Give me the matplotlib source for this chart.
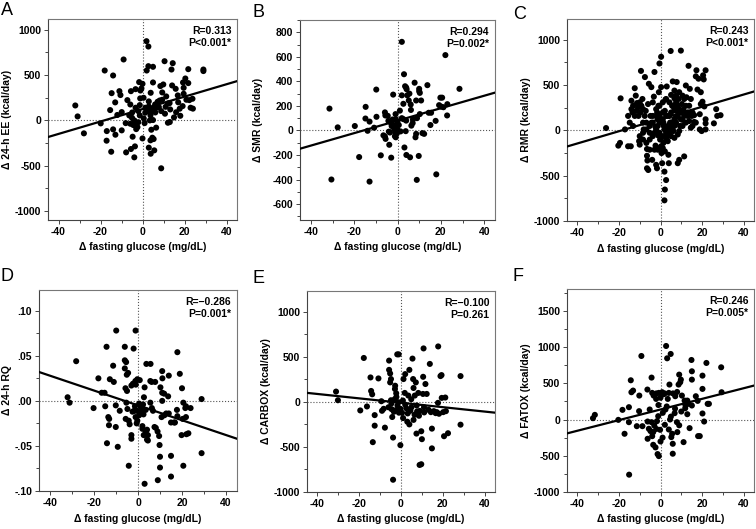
import numpy as np
import matplotlib
matplotlib.use("Agg")
import matplotlib.pyplot as plt
from matplotlib.ticker import MultipleLocator, FuncFormatter

plt.rcParams['font.family'] = ['Liberation Sans', 'DejaVu Sans']
plt.rcParams['axes.unicode_minus'] = False

# --- data (x = change in fasting glucose, y = change in outcome) ---
pts_ee = [(-32,165),(-30.9,44),(-27.9,-143),(-19.9,-33),(-18,551),(-17,-118),(-14,496),(-9,673),
          (-14.7,301),(-13,199),(-11,323),(-15.4,114),(-9.9,92),(-9.9,-110),(-14,-99),(-12.9,-158),
          (-17.1,-224),(-14.9,-346),(-7.8,-353),(-5.5,-316),(-3.9,-408),(-3.6,-287),(-4.7,-180),
          (-7.2,224),(-5.5,323),(-3.3,345),(-5.8,176),(-6.3,55),(-5,29),(-3.9,0),(-5.8,-37),(-3.1,-29),
          (-3,-96),(-2.4,-74),(-1.6,423),(-1.1,243),(-0.5,353),(0,404),(0,-199),(1.9,875),(2.8,816),
          (2.8,599),(2,551),(5,592),(5,419),(3.9,305),(3,210),(1.4,140),(2.7,103),(3.8,55),(5,129),
          (6,176),(6.6,140),(7.2,206),(3.5,0),(5,4),(4.2,-103),(3.8,-220),(3,-301),(3.9,-368),
          (5.6,-331),(5.3,-206),(4.7,-191),(8.9,-529),(10.5,654),(14.4,632),(13.8,562),(9.9,397),
          (8.5,379),(9.4,228),(11.3,265),(12.1,187),(13.2,121),(14.1,386),(15.8,349),(15,33),(18,51),
          (19.1,158),(19.6,294),(20.9,228),(21.8,412),(21.8,566),(19.3,419),(20.4,463),(19.6,360),
          (22.3,224),(22.9,140),(23.8,239),(29,562),(29,545),(17.7,129),(16.8,276),(12.9,191),
          (12.1,-26),(13,-18),(10.7,74),(8.9,103),(8.2,220),(9.4,309),(7.8,147),(6.1,88),(4.7,103),
          (3,154),(1.3,85),(0.6,22),(-1.3,55),(-2,103),(-3.3,140),(-1.3,169),(-4.9,88),(-4.4,-51),
          (-10.5,280),(-12,60),(-8,-30),(-2,-20),(1,-30),(0.5,250),(-1,330),(6.5,-80),(11,150),
          (16,90),(17,200),(24,130)]

pts_smr = [(-31.4,178),(-30.5,-400),(-27.6,25),(-19.7,36),(-17.7,-217),(-14.8,97),(-14.7,192),
           (-13.8,-3),(-12.9,72),(-12.9,-417),(-10.8,22),(-9.7,111),(-9.8,333),(-7.7,-203),(-5.8,147),
           (-5.6,122),(-5.8,-50),(-5.5,-69),(-3.8,-117),(-2.9,-222),(-3.5,-17),(-2.7,36),(-2,292),
           (-2.3,89),(-1.5,8),(-0.9,133),(-0.8,92),(-0.9,44),(-0.3,-25),(-1.2,-47),(0,72),(1.1,161),
           (2,286),(2,722),(2.7,217),(3,458),(2.7,92),(3.2,-139),(4.2,336),(3.8,-6),(4.1,-200),
           (4.5,286),(5.2,244),(6.1,211),(7.1,89),(6.4,39),(5.8,-219),(6.2,167),(7.9,389),(8.6,244),
           (8.3,-56),(8.6,-28),(8.9,-403),(9.8,-208),(10,339),(10.3,306),(10.3,133),(10.9,244),
           (11.5,-22),(12.3,-28),(13.8,369),(14.4,144),(15.2,44),(15.5,144),(17.6,78),(17.9,-358),
           (22.1,614),(23,214),(22.9,122),(28.6,339),(19.8,267),(20.6,267),(19.2,206),(21.2,189),
           (20.2,194),(1.4,-8),(0.6,44),(-0.2,14),(-0.8,-56),(-4.5,119),(-4.2,78),(-6.5,-40),(-4,-10),
           (3.5,360),(4,350),(5.5,300),(9,100),(10,320),(2,100),(4,80),(7,60),(-1,-20),(-3,60)]

pts_rmr = [(-26.2,26),(-19.2,354),(-20.3,-168),(-19.5,-138),(-17.1,11),(-15.6,-175),(-14.3,-175),
           (-15.6,160),(-14.8,86),(-14,328),(-13.5,198),(-13.2,49),(-12.4,466),(-11.9,384),(-11.3,302),
           (-10.3,-119),(-10,-157),(-9.7,198),(-9.4,657),(-10.6,160),(-8.7,347),(-8.4,86),(-8.1,11),
           (-7.5,589),(-7.1,216),(-6.5,-205),(-6.5,-280),(-6.3,-332),(-6.5,-418),(-5.9,-437),(-6,291),
           (-5.6,515),(-5.2,-26),(-4.8,160),(-4.4,478),(-4.3,86),(-4,-325),(-3.7,310),(-3.2,373),
           (-2.9,645),(-2.5,41),(-2.4,-168),(-2.1,-380),(-1.7,-418),(-1.6,198),(-1.3,123),(-1.1,-56),
           (-1,272),(-0.8,422),(-0.5,739),(-0.2,-101),(0.3,813),(0.3,478),(0.5,-250),(0.8,-362),
           (1.1,198),(1.4,86),(1.6,49),(1.9,-455),(2.1,-231),(2.1,216),(2.4,340),(2.7,-548),(3,485),
           (2.1,-653),(1.9,-772),(3.5,-119),(3.8,-269),(4,-362),(4.3,160),(4.6,86),(4.9,877),(5.1,392),
           (5.6,272),(5.9,541),(6.2,-7),(6.7,440),(7,131),(7.5,216),(7.8,534),(8.3,-362),(8.7,347),
           (9,-325),(9.4,49),(9.8,881),(10.3,291),(10.6,116),(11,228),(11.4,-287),(12.2,496),(12.5,366),
           (13,198),(13.5,713),(14.1,459),(14.6,347),(15.1,160),(15.4,198),(16.2,168),(16.2,93),
           (17,597),(17.3,664),(17.8,451),(18.3,571),(18.9,179),(18.9,11),(19.4,291),(19.8,-7),
           (20.2,317),(20.5,608),(20.8,563),(21.7,664),(21.7,123),(21.7,78),(21.7,11),(25.7,78),
           (26.8,235),(27.3,160),(28.9,168),(21.1,265),(19.4,422),
           (6.7,354),(7.5,310),(8.3,272),(9,235),(9.8,198),(8.3,160),(6.7,123),(5.1,86),(3.5,49),
           (1.9,11),(0.3,123),(-0.5,86),(-1.3,49),(-2.1,11),(-2.9,-26),(-3.7,-63),(-5.2,-101),
           (-6.8,11),(-8.4,-26),(-10,-63),(-3.7,160),(-2.1,235),(-0.5,272),(1.1,310),(2.7,347),
           (4.3,310),(5.9,272),(7.5,384),(9,422),(10.6,384),(11.4,347),(12.2,272),(13,160),(13.8,272),
           (11.4,160),(9.8,123),(7.5,86),(5.9,49),(4.3,11),(2.7,-26),(1.1,-63),(-0.5,-26),(3.5,160),
           (5.1,198),(6.7,235),(2.7,160),(1.1,123),(-0.5,160),(-2.1,160),(-3.7,86),(-5.2,49),(-6.8,86),
           (-7.6,160),(-8.4,235),(-9.2,272),(-10,310),(-10.8,254),(-11.6,216),(-12.4,160),(-13.2,272),
           (-14,235),(4.3,-26),(5.1,-63),(3.5,-63),(2.7,-101),(1.4,-138),(0.3,-175),(-0.5,-194),
           (1.1,-194),(-1.3,-213),(-2.9,-213),(-5.2,-213),(-6.8,-138),(-8.4,-101),(6.7,-82),(8.3,-45),
           (9,-7),(10.6,49),(12.2,86),(13.8,104),(15.4,49),(17,86),(14.6,30),(6.7,49)]

pts_rq = [(-32,0.004),(-31.1,-0.002),(-28.1,0.044),(-20.2,-0.008),(-18,0.025),(-16.5,0.009),
          (-15.2,0.009),(-14.9,-0.006),(-14.3,0.060),(-13.5,-0.018),(-13.1,-0.020),(-13.2,-0.027),
          (-14.1,-0.047),(-12.8,0.024),(-11.3,0.039),(-11,0.021),(-9.9,0.078),(-10.1,-0.005),
          (-10.1,-0.029),(-9.2,-0.051),(-8.3,-0.011),(-6,0.060),(-6,0.045),(-5.4,0.043),(-6,0.036),
          (-5.1,0.029),(-4.5,0.031),(-5.7,0.014),(-5,0.011),(-5.3,-0.002),(-4.8,-0.009),(-5.6,-0.020),
          (-4.2,-0.022),(-3.8,-0.026),(-3,-0.038),(-3,-0.042),(-4.2,-0.072),(-3,0.017),(-2.3,0.019),
          (-2,0.058),(-1.1,0.078),(-1.2,0.022),(-0.3,0.024),(0.8,0.023),(-1.7,-0.011),(-1.4,-0.006),
          (-0.6,-0.011),(-1.1,-0.018),(-0.6,-0.025),(-0.3,-0.022),(0.5,-0.003),(1.1,-0.006),
          (1.7,-0.008),(2.3,-0.004),(2.7,0.004),(3,0.015),(2,-0.028),(2,-0.031),(2.6,-0.038),
          (3.5,-0.035),(4.1,-0.032),(4.5,-0.038),(4.1,-0.043),(4.5,-0.044),(3.8,0.041),(5.7,0.041),
          (3,-0.092),(5.6,0.022),(6.2,0.021),(7.8,0.021),(5.6,-0.002),(6.3,-0.008),(6.8,-0.011),
          (7.5,-0.029),(8.1,-0.030),(8.9,-0.034),(9.6,-0.039),(9.8,-0.049),(10,-0.062),(10,-0.074),
          (9,-0.088),(10.2,0.015),(11,0.033),(11.1,0.025),(11,0.009),(11.9,0.008),(10.7,-0.018),
          (12,-0.016),(12.8,-0.014),(13.7,0.005),(14,0.028),(11,0),(14,-0.014),(15,-0.024),(15,-0.061),
          (15,-0.084),(16.4,-0.024),(16.8,-0.024),(17.7,-0.010),(17.9,-0.017),(17.9,0.054),(19,0.030),
          (20,0.014),(20.6,-0.002),(20.3,-0.020),(19.8,-0.038),(20.6,-0.072),(21.5,-0.008),
          (21.8,-0.018),(22,-0.037),(22.9,-0.036),(23.9,-0.008),(28.9,0.002),(28.9,-0.058),
          (21.8,-0.006),(1.5,-0.012),(3.5,-0.010),(2.5,-0.015),(0.5,-0.016),(-2.5,-0.012),(-1,0.018)]

pts_carb = [(-31.1,114),(-30.2,18),(-19.5,-95),(-17.8,487),(-16.3,-51),(-14.6,271),(-14.3,121),
            (-13.8,84),(-13.5,-447),(-12.6,-147),(-12.6,-264),(-10.8,260),(-9.4,7),(-9.1,-99),
            (-8.3,-77),(-7.7,-286),(-5.7,458),(-5.7,355),(-5.2,315),(-5.2,216),(-4.8,253),(-4.8,18),
            (-4.6,-18),(-4.5,-81),(-4.2,-168),(-3.8,-396),(-3.8,-864),(-3.4,-110),(-2.9,143),(-2.8,179),
            (-2.3,95),(-2.2,55),(-1.8,527),(-1.1,527),(-1.7,-40),(-2.5,-92),(-1.2,-4),(-0.3,-77),
            (-0.3,-480),(0.5,-121),(0.9,15),(1.2,253),(2,308),(1.8,99),(2.5,-70),(3.2,-128),(4,355),
            (4.5,-99),(4.9,29),(5.5,480),(5.8,253),(6,154),(6.5,-143),(6.6,70),(7.1,216),(7.4,-352),
            (7.7,-106),(8.2,-132),(8.3,99),(8.6,-154),(8.9,-700),(9.7,-692),(9.7,-326),(10,-414),
            (10.5,88),(10.6,278),(10.8,593),(11.1,-117),(11.7,198),(12.3,88),(13.2,-88),(13.8,421),
            (14.3,-114),(14.8,-516),(14.8,-297),(15.7,-103),(16.6,-125),(17.1,-114),(17.8,615),
            (17.7,-11),(18.2,-132),(18.9,286),(19.4,297),(19.5,44),(20.2,-114),(20.6,-381),(21.2,48),
            (21.5,-103),(22.5,-348),(28.5,286),(28.5,-253),(3.5,70),(7.5,-40),(2,-30),(5,-60),
            (-1,-120),(1,-180),(3,-220),(6,-200),(4,-250),(9,-100),(11,-60),(-3,30),(-6,-60)]

pts_fat = [(-32.5,18),(-31.6,64),(-20.3,-5),(-18.3,133),(-17.3,-197),(-15.2,170),(-15.2,-37),
           (-15.1,-761),(-14.3,541),(-14,376),(-13.2,399),(-11.4,-92),(-10.3,115),(-10.2,330),
           (-9.2,876),(-8.7,-92),(-6.3,413),(-6.2,-28),(-6.2,-266),(-5.6,-128),(-5.2,138),(-4.8,-160),
           (-4.3,578),(-4.3,-37),(-4,367),(-3.3,330),(-3,-83),(-3.5,-349),(-3.5,-174),(-2.4,-385),
           (-2.1,284),(-1.7,-23),(-1.4,-477),(-0.8,-505),(-1.1,46),(-0.8,367),(-0.2,-142),(0,-303),
           (0.8,376),(1.1,92),(1.6,349),(2.1,-73),(2.4,138),(2.7,1014),(3.2,844),(3.5,284),(4,367),
           (4.3,482),(4.9,904),(5.2,-243),(5.6,-197),(5.9,-335),(5.9,-472),(4.6,0),(4,-138),(6.8,87),
           (7.1,321),(7.9,-37),(8.1,-174),(8.7,482),(9,619),(9.5,514),(9.8,550),(10.3,330),(10,110),
           (11.1,-312),(11.6,261),(11.9,156),(12.9,261),(12.9,73),(13.5,216),(14,-119),(14.9,821),
           (15.1,665),(15.1,550),(15.1,193),(17,321),(17.9,257),(18.1,-229),(18.9,-229),(20.2,605),
           (20.2,422),(21,-28),(22.1,780),(22.7,216),(23.3,216),(29.2,720),(29.4,376),(20.2,83),
           (-2,360),(0,300),(2,360),(6,360),(8,380),(-1,200),(3,180),(7,150),(12,200),(-4,-230),
           (-2,-130),(1,-250),(9,-80),(5,40)]

# regression lines (slope, intercept) read from the drawn fits
fit_slope = [6.86, 5.08, 6.75, -0.000823, -2.44, 7.33]
fit_icpt = [125, 79.5, 126, -0.005, -10, 138]

panel_letters = ['A', 'B', 'C', 'D', 'E', 'F']
ylabels = ['Δ 24-h EE (kcal/day)', 'Δ SMR (kcal/day)', 'Δ RMR (kcal/day)',
           'Δ 24-h RQ', 'Δ CARBOX (kcal/day)', 'Δ FATOX (kcal/day)']
stats_text = ['R=0.313\nP<0.001*', 'R=0.294\nP=0.002*', 'R=0.243\nP<0.001*',
              'R=\u22120.286\nP=0.001*', 'R=\u22120.100\nP=0.261', 'R=0.246\nP=0.005*']
all_pts = [pts_ee, pts_smr, pts_rmr, pts_rq, pts_carb, pts_fat]

ylims = [(-1100, 1120), (-730, 900), (-1000, 1230), (-0.10, 0.123), (-1000, 1230), (-1000, 1800)]
ymajor = [500, 200, 500, 0.05, 500, 500]
yminor = [250, 100, 250, 0.025, 250, 250]

# axes boxes in pixels: left, right, top, bottom
W, H = 756, 529
boxes = [(48, 237, 19, 220), (300, 495, 20, 220), (567, 754, 19, 221),
         (39, 237, 290, 491), (307, 495, 291, 492), (567, 754, 289, 492)]
ylabel_x = [12, 263, 531, 12, 271, 531]
letter_pos = [(1, 2), (252, 4), (513, 6), (1, 268), (252, 270), (513, 268)]

fig = plt.figure(figsize=(W / 100, H / 100), dpi=100)
fs = 7.5

for i in range(6):
    l, r, t, b = boxes[i]
    ax = fig.add_axes([l / W, 1 - b / H, (r - l) / W, (b - t) / H])
    xy = np.array(all_pts[i])
    ax.axhline(0, color='#555555', lw=0.8, ls=':', zorder=1)
    ax.axvline(0, color='#555555', lw=0.8, ls=':', zorder=1)
    ax.scatter(xy[:, 0], xy[:, 1], s=19, color='black', edgecolors='none', zorder=3)
    xx = np.array([-45, 45])
    ax.plot(xx, fit_slope[i] * xx + fit_icpt[i], color='black', lw=1.6, zorder=4)

    ax.set_xlim(-45, 45)
    ax.set_ylim(*ylims[i])
    ax.xaxis.set_major_locator(MultipleLocator(20))
    ax.xaxis.set_minor_locator(MultipleLocator(10))
    ax.yaxis.set_major_locator(MultipleLocator(ymajor[i]))
    ax.yaxis.set_minor_locator(MultipleLocator(yminor[i]))
    if i == 3:
        ax.yaxis.set_major_formatter(FuncFormatter(
            lambda v, p: ('-' if v < -1e-9 else '') + ('%.2f' % abs(v)).lstrip('0')))
    for side in ['top', 'right']:
        ax.spines[side].set_color('#777777')
    for side in ['left', 'bottom']:
        ax.spines[side].set_color('#444444')
    for sp in ax.spines.values():
        sp.set_linewidth(0.8)
    ax.tick_params(which='both', direction='out', color='#444444', width=0.7,
                   top=False, right=False)
    ax.tick_params(which='major', length=3, labelsize=fs, pad=2)
    ax.tick_params(which='minor', length=2)
    for lab in ax.get_xticklabels() + ax.get_yticklabels():
        lab.set_fontweight('bold')

    ax.set_xlabel('Δ fasting glucose (mg/dL)', fontsize=fs, fontweight='bold', labelpad=4)
    ax.set_ylabel(ylabels[i], fontsize=fs, fontweight='bold')
    ax.yaxis.set_label_coords((ylabel_x[i] - l) / (r - l), 0.5)
    ax.text(0.97, 0.965, stats_text[i], transform=ax.transAxes, ha='right', va='top',
            fontsize=fs, fontweight='bold', linespacing=1.25)

    lx, ly = letter_pos[i]
    fig.text(lx / W, 1 - ly / H, panel_letters[i], fontsize=13, ha='left', va='top')

fig.savefig('out.png', dpi=100)
